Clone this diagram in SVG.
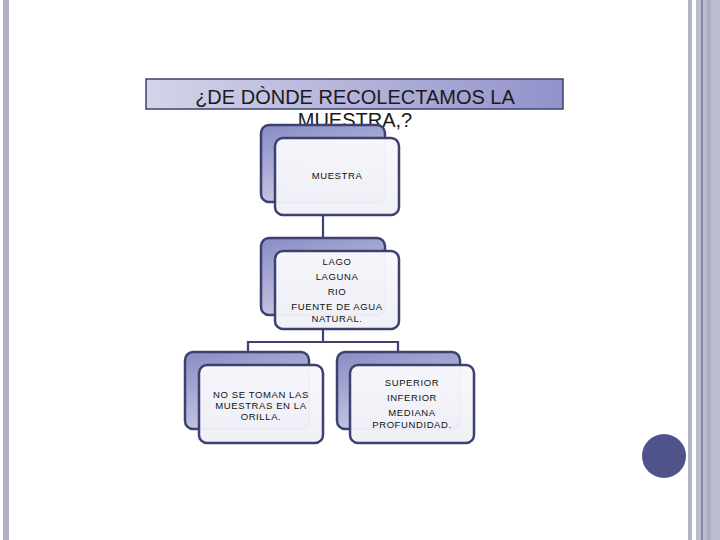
<svg xmlns="http://www.w3.org/2000/svg" width="720" height="540" viewBox="0 0 720 540">
<defs>
<linearGradient id="tg" x1="0" y1="0" x2="1" y2="0">
<stop offset="0" stop-color="#d4d4ea"/><stop offset="1" stop-color="#9292cc"/>
</linearGradient>
<linearGradient id="bg" x1="0" y1="0" x2="0.4" y2="1">
<stop offset="0" stop-color="#8a8cc4"/><stop offset="1" stop-color="#c8cae4"/>
</linearGradient>
<linearGradient id="fg" x1="0" y1="0" x2="0" y2="1">
<stop offset="0" stop-color="#f8f8fc"/><stop offset="1" stop-color="#efeff7"/>
</linearGradient>
<style>
.back{fill:url(#bg);stroke:#3e4070;stroke-width:2.5}
.front{fill:url(#fg);fill-opacity:0.97;stroke:#3e4070;stroke-width:2.5}
.t{font-family:"Liberation Sans",Arial,sans-serif;font-size:9.5px;letter-spacing:0.6px;fill:#111;text-anchor:middle}
.c{fill:none;stroke:#3e4070;stroke-width:2.2}
</style>
</defs>
<rect width="720" height="540" fill="#ffffff"/>
<rect x="3" y="0" width="6" height="540" fill="#b0b0c4"/>
<rect x="688" y="0" width="4" height="540" fill="#b4b4c8"/>
<rect x="696" y="0" width="24" height="540" fill="#bcbccc"/>
<rect x="707" y="0" width="4" height="540" fill="#adadc2"/>
<line x1="702" y1="0" x2="702" y2="540" stroke="#55578a" stroke-width="1"/>
<circle cx="664" cy="456" r="22" fill="#50528a"/>
<g id="title">
<rect x="146" y="79" width="417" height="30" fill="url(#tg)" stroke="#404070" stroke-width="1.5"/>
<text x="355" y="104" font-family="Liberation Sans,Arial,sans-serif" font-size="20" text-anchor="middle" fill="#1a1a1a">¿DE DÒNDE RECOLECTAMOS LA</text>
<text x="355" y="127" font-family="Liberation Sans,Arial,sans-serif" font-size="20" text-anchor="middle" fill="#1a1a1a">MUESTRA,?</text>
</g>
<g id="connectors">
<line class="c" x1="323" y1="215" x2="323" y2="238"/>
<polyline class="c" points="323,329 323,342"/>
<polyline class="c" points="248,352 248,342 398,342 398,352"/>
</g>
<g id="n1">
<rect class="back" x="261" y="125" width="124" height="77" rx="8"/>
<rect class="front" x="275" y="138" width="124" height="77" rx="8"/>
<text class="t" x="337" y="179">MUESTRA</text>
</g>
<g id="n2">
<rect class="back" x="261" y="238" width="124" height="77" rx="8"/>
<rect class="front" x="275" y="251" width="124" height="78" rx="8"/>
<text class="t" x="337" y="265">LAGO</text>
<text class="t" x="337" y="280">LAGUNA</text>
<text class="t" x="337" y="295">RIO</text>
<text class="t" x="337" y="310">FUENTE DE AGUA</text>
<text class="t" x="337" y="322">NATURAL.</text>
</g>
<g id="n3">
<rect class="back" x="185" y="352" width="124" height="77" rx="8"/>
<rect class="front" x="199" y="365" width="124" height="78" rx="8"/>
<text class="t" x="261" y="398">NO SE TOMAN LAS</text>
<text class="t" x="261" y="409">MUESTRAS EN LA</text>
<text class="t" x="261" y="420">ORILLA.</text>
</g>
<g id="n4">
<rect class="back" x="337" y="352" width="123" height="77" rx="8"/>
<rect class="front" x="350" y="365" width="124" height="78" rx="8"/>
<text class="t" x="412" y="386">SUPERIOR</text>
<text class="t" x="412" y="401">INFERIOR</text>
<text class="t" x="412" y="416">MEDIANA</text>
<text class="t" x="412" y="428">PROFUNDIDAD.</text>
</g>
</svg>
